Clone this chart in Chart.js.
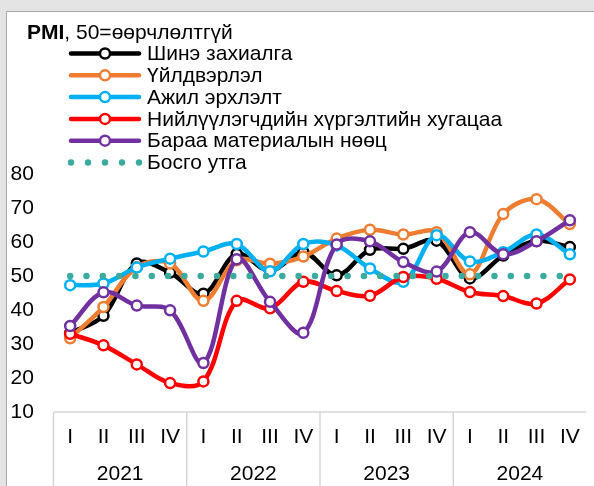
<!DOCTYPE html>
<html>
<head>
<meta charset="utf-8">
<script src="https://cdn.jsdelivr.net/npm/chart.js@4.4.0/dist/chart.umd.min.js"></script>
<style>
  body { margin: 0; background: #e4e4e4; width: 594px; height: 486px; overflow: hidden; position: relative; }
  #panel { position: absolute; left: 6px; top: 11px; width: 700px; height: 600px; background: #fff; border: 1px solid #a8a8a8; }
  #myChart { position: absolute; left: 0; top: 0; }
</style>
</head>
<body>
<div id="panel"></div>
<canvas id="myChart" width="594" height="486"></canvas>
<script>
// Categories
const years = ["2021", "2022", "2023", "2024"];
const quarters = ["I", "II", "III", "IV"];
const labels = years.flatMap((y) => quarters.map((q) => q + " " + y));

// Series values
const newOrders = [33.2, 38.3, 53.7, 51, 44.8, 56.5, 51.5, 57, 50.2, 57.7, 58, 60.4, 49.3, 56, 60.3, 58.5];
const production = [31.7, 40.9, 52.6, 53.7, 42.7, 54.6, 53.6, 55.7, 61, 63.6, 62.2, 62.9, 50.5, 68.2, 72.6, 65.3];
const employment = [47.3, 47.8, 52.5, 55.1, 57.2, 59.4, 51.4, 59.4, 59, 52.2, 48.3, 62, 54.3, 57, 62.2, 56.4];
const deliveryTime = [33, 29.6, 24, 18.5, 19, 42.7, 40.5, 48.3, 45.6, 44.2, 49.7, 49.2, 45.3, 44.1, 41.9, 49];
const inventory = [35.3, 45.2, 41.3, 39.9, 24.4, 54.9, 42.4, 33.3, 59.3, 60.2, 54.1, 51.3, 62.9, 56.4, 60.2, 66.4];
const threshold = [50, 50, 50, 50, 50, 50, 50, 50, 50, 50, 50, 50, 50, 50, 50, 50];

// Y axis ticks
const yTicks = [10, 20, 30, 40, 50, 60, 70, 80];

const FONT = "'Liberation Sans', Arial, sans-serif";
const ctx = document.getElementById("myChart").getContext("2d");

function lineSet(label, data, color, order) {
  return {
    label,
    data,
    borderColor: color,
    backgroundColor: "#ffffff",
    borderWidth: 4.5,
    tension: 0.35,
    pointRadius: 5,
    pointBorderWidth: 2.5,
    pointBackgroundColor: "#ffffff",
    pointBorderColor: color,
    order,
  };
}

const datasets = [
  lineSet("Шинэ захиалга", newOrders, "#000000", 5),
  lineSet("Үйлдвэрлэл", production, "#ED7D31", 4),
  lineSet("Ажил эрхлэлт", employment, "#00B0F0", 3),
  lineSet("Нийлүүлэгчдийн хүргэлтийн хугацаа", deliveryTime, "#FF0000", 2),
  lineSet("Бараа материалын нөөц", inventory, "#7030A0", 1),
  {
    label: "Босго утга",
    data: threshold,
    borderColor: "#3AAB9E",
    borderWidth: 6.5,
    borderDash: [0, 16.32],
    borderCapStyle: "round",
    pointRadius: 0,
    tension: 0,
    order: 0,
    dots: true,
  },
];

// Two-level category axis + legend, drawn from the x scale
const customAxis = {
  id: "customAxis",
  afterDraw(chart) {
    const c = chart.ctx;
    const xs = chart.scales.x;
    const area = chart.chartArea;
    const step = xs.getPixelForValue(1) - xs.getPixelForValue(0);
    c.save();
    c.strokeStyle = "#d6d6d6";
    c.lineWidth = 1.5;
    c.beginPath();
    c.moveTo(area.left, area.bottom);
    c.lineTo(area.right, area.bottom);
    for (let i = 0; i < years.length; i++) {
      const x = xs.getPixelForValue(i * 4) - step / 2;
      c.moveTo(x, area.bottom);
      c.lineTo(x, 486);
    }
    c.stroke();

    c.fillStyle = "#000";
    c.textAlign = "center";
    c.textBaseline = "middle";
    c.font = "21px " + FONT;
    labels.forEach((l, i) => {
      c.fillText(quarters[i % 4], xs.getPixelForValue(i), 437);
    });
    years.forEach((y, i) => {
      const x = (xs.getPixelForValue(i * 4) + xs.getPixelForValue(i * 4 + 3)) / 2;
      c.fillText(y, x, 474);
    });

    // Title
    c.textAlign = "left";
    c.font = "bold 21px " + FONT;
    c.fillText("PMI", 27, 33);
    const w = c.measureText("PMI").width;
    c.font = "21px " + FONT;
    c.fillText(", 50=өөрчлөлтгүй", 27 + w, 33);

    // Legend
    chart.data.datasets.forEach((ds, i) => {
      const y = 53.5 + i * 21.8;
      if (ds.dots) {
        c.fillStyle = ds.borderColor;
        for (let k = 0; k < 5; k++) {
          c.beginPath();
          c.arc(71 + k * 17, y, 3.2, 0, Math.PI * 2);
          c.fill();
        }
      } else {
        c.strokeStyle = ds.borderColor;
        c.lineWidth = 4.5;
        c.lineCap = "round";
        c.beginPath();
        c.moveTo(71, y);
        c.lineTo(139, y);
        c.stroke();
        c.beginPath();
        c.arc(105, y, 5, 0, Math.PI * 2);
        c.fillStyle = "#fff";
        c.fill();
        c.lineWidth = 2.5;
        c.stroke();
      }
      c.fillStyle = "#000";
      c.fillText(ds.label, 147, y + 1);
    });
    c.restore();
  },
};

const chart = new Chart(ctx, {
  type: "line",
  data: { labels, datasets },
  options: {
    responsive: false,
    animation: false,
    layout: { padding: { top: 174, bottom: 74, left: 10.5, right: 0.5 } },
    plugins: { legend: { display: false }, tooltip: { enabled: false } },
    scales: {
      x: { display: false, offset: true },
      y: {
        min: 10,
        max: 80,
        afterBuildTicks: (scale) => {
          scale.ticks = yTicks.map((v) => ({ value: v }));
        },
        afterFit: (scale) => {
          scale.width = 43;
        },
        grid: { display: false },
        border: { display: false },
        ticks: {
          crossAlign: "far",
          color: "#000",
          font: { size: 21, family: FONT },
        },
      },
    },
  },
  plugins: [customAxis],
});
</script>
</body>
</html>
